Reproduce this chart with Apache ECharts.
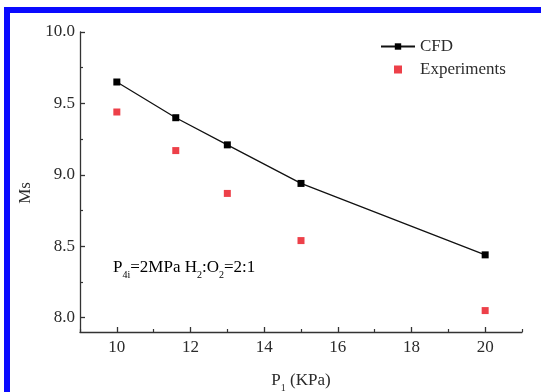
<!DOCTYPE html>
<html>
<head>
<meta charset="utf-8">
<script src="https://cdn.jsdelivr.net/npm/echarts@6/dist/echarts.min.js"></script>
<style>
  html, body { margin: 0; padding: 0; background: #fff; }
  #main { width: 541px; height: 392px; }
</style>
</head>
<body>
<div id="main"></div>
<script>
// P1 (KPa) values
const pressures = [10, 11.6, 13, 15, 20];
// Ms values
const cfdMs = [9.65, 9.40, 9.21, 8.94, 8.44];
const expMs = [9.44, 9.17, 8.87, 8.54, 8.05];
// tick positions
const xMajorTicks = [10, 12, 14, 16, 18, 20];
const xMinorTicks = [9, 11, 13, 15, 17, 19, 21];
const yMajorTicks = [8.0, 8.5, 9.0, 9.5, 10.0];
const yMinorTicks = [8.25, 8.75, 9.25, 9.75];

const serif = '"Liberation Serif", "Times New Roman", serif';
const textColor = '#2b2b2b';
const axisColor = '#333';

let chart = echarts.init(document.getElementById('main'));

const subRich = {
    a: {fontFamily: serif, fontSize: 17, color: textColor, lineHeight: 19, padding: [0, 0, 4, 0], verticalAlign: 'bottom'},
    s: {fontFamily: serif, fontSize: 10, color: textColor, lineHeight: 11, verticalAlign: 'bottom'}
};

let option = {
    animation: false,
    backgroundColor: '#fff',
    grid: {left: 80, right: 19, top: 32, bottom: 60, outerBoundsMode: 'none'},
    legend: {
        orient: 'vertical',
        left: 380,
        top: 38,
        padding: 0,
        itemWidth: 34,
        itemHeight: 8,
        itemGap: 6,
        symbolKeepAspect: true,
        textStyle: {fontFamily: serif, fontSize: 17, color: textColor},
        data: [
            {name: 'CFD'},
            {name: 'Experiments', icon: 'path://M0 0H10V10H0Z'}
        ]
    },
    xAxis: [
        {
            type: 'value',
            min: 9,
            max: 21,
            position: 'bottom',
            name: '{a|P}{s|1}{a| (KPa)}',
            nameLocation: 'middle',
            nameGap: 42,
            nameTextStyle: {rich: subRich},
            axisLine: {lineStyle: {color: axisColor, width: 1.3}},
            axisTick: {inside: true, length: 5, customValues: xMajorTicks, lineStyle: {color: axisColor, width: 1.3}},
            axisLabel: {customValues: xMajorTicks, margin: 7, fontFamily: serif, fontSize: 17, color: textColor},
            splitLine: {show: false}
        },
        {
            type: 'value',
            min: 9,
            max: 21,
            position: 'bottom',
            axisLine: {show: false},
            axisTick: {inside: true, length: 3, customValues: xMinorTicks, lineStyle: {color: axisColor, width: 1.2}},
            axisLabel: {show: false},
            splitLine: {show: false}
        }
    ],
    yAxis: [
        {
            type: 'value',
            min: 7.9,
            max: 10,
            position: 'left',
            name: 'Ms',
            nameLocation: 'middle',
            nameRotate: 90,
            nameGap: 46,
            nameTextStyle: {fontFamily: serif, fontSize: 17, color: textColor, padding: [0, 22, 0, 0]},
            axisLine: {lineStyle: {color: axisColor, width: 1.3}},
            axisTick: {inside: true, length: 5, customValues: yMajorTicks, lineStyle: {color: axisColor, width: 1.3}},
            axisLabel: {
                customValues: yMajorTicks,
                margin: 5,
                fontFamily: serif,
                fontSize: 17,
                color: textColor,
                formatter: (v) => v.toFixed(1)
            },
            splitLine: {show: false}
        },
        {
            type: 'value',
            min: 7.9,
            max: 10,
            position: 'left',
            axisLine: {show: false},
            axisTick: {inside: true, length: 3, customValues: yMinorTicks, lineStyle: {color: axisColor, width: 1.2}},
            axisLabel: {show: false},
            splitLine: {show: false}
        }
    ],
    graphic: [
        // blue frame (top and left)
        {type: 'rect', shape: {x: 4, y: 7, width: 537, height: 6}, style: {fill: '#0a0aff'}},
        {type: 'rect', shape: {x: 4, y: 7, width: 6, height: 385}, style: {fill: '#0a0aff'}},
        {
            type: 'text',
            left: 113,
            top: 259,
            style: {
                text: '{a|P}{s|4i}{a|=2MPa H}{s|2}{a|:O}{s|2}{a|=2:1}',
                rich: subRich
            }
        }
    ],
    series: [
        {
            name: 'CFD',
            type: 'line',
            symbol: 'rect',
            symbolSize: 7,
            itemStyle: {color: '#000'},
            lineStyle: {color: '#111', width: 1.3},
            data: pressures.map((p, i) => [p, cfdMs[i]]),
            z: 3
        },
        {
            name: 'Experiments',
            type: 'scatter',
            symbol: 'rect',
            symbolSize: 7,
            itemStyle: {color: '#e8101c'},
            data: pressures.map((p, i) => [p, expMs[i]])
        }
    ]
};

chart.setOption(option);
</script>
</body>
</html>
